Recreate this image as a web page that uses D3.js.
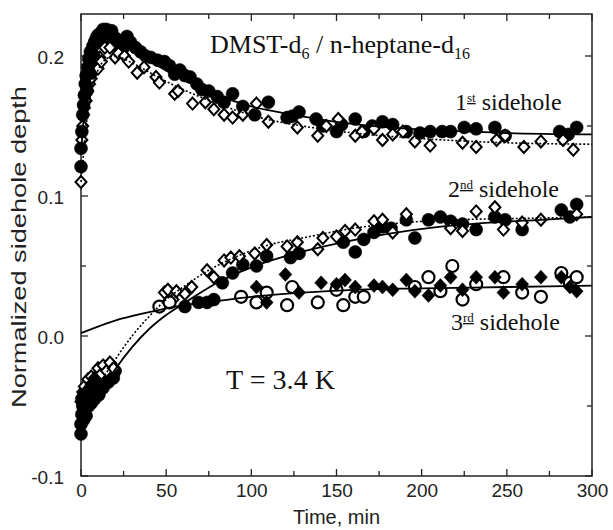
<!DOCTYPE html>
<html><head><meta charset="utf-8">
<script src="https://cdn.jsdelivr.net/npm/d3@7"></script>
<style>body{margin:0;background:#fff}</style>
</head><body>
<svg id="chart" width="613" height="530"></svg>
<script>
// ---------- DATA (time in min, normalized sidehole depth) ----------
const xTickValues = [0, 50, 100, 150, 200, 250, 300];
const xTickLabels = ["0", "50", "100", "150", "200", "250", "300"];
const yTickValues = [-0.1, 0.0, 0.1, 0.2];
const yTickLabels = ["-0.1", "0.0", "0.1", "0.2"];

// 1st sidehole
const first_filledCircles = [
 [0,0.121],[0,0.134],[0.5,0.146],[1,0.158],[1.5,0.165],[2,0.172],[2.5,0.180],[3,0.186],[3.5,0.175],[4,0.192],
 [4.5,0.198],[5,0.188],[5.5,0.203],[6,0.196],[7,0.207],[7.5,0.200],[8,0.210],[9,0.213],[10,0.215],[11,0.211],
 [12,0.217],[13,0.219],[14,0.214],[15,0.219],[16,0.216],[17,0.212],[18,0.218],[20,0.213],[21,0.208],[23,0.210],
 [25,0.206],[27,0.214],[29,0.210],[32,0.206],[35,0.203],[38,0.200],[41,0.199],[45,0.197],[49,0.196],[52,0.193],
 [55,0.187],[58,0.190],[61,0.186],[64,0.185],[68,0.180],[71,0.176],[75,0.175],[80,0.171],[84,0.167],[89,0.173],
 [95,0.164],[102,0.158],[110,0.167],[121,0.156],[124,0.157],[128,0.160],[138,0.155],[142,0.150],[150,0.146],[153,0.151],
 [161,0.155],[166,0.146],[171,0.150],[177,0.153],[183,0.151],[191,0.146],[199,0.145],[205,0.146],[212,0.146],[217,0.146],
 [225,0.149],[232,0.148],[243,0.149],[249,0.143],[281,0.146],[286,0.144],[291,0.149]
];
const first_openDiamonds = [
 [0,0.110],[0.5,0.140],[1,0.150],[1.5,0.158],[2,0.163],[3,0.168],[4,0.175],[5,0.180],[6,0.184],[7,0.188],
 [8,0.192],[9,0.195],[10,0.191],[11,0.199],[12,0.196],[14,0.206],[17,0.206],[20,0.199],[22,0.202],[25.5,0.200],
 [28,0.196],[33,0.188],[37,0.192],[44,0.185],[46,0.181],[55,0.173],[57,0.175],[65.5,0.166],[73,0.167],[78,0.162],
 [84,0.158],[89,0.156],[95,0.158],[103,0.166],[110,0.153],[127,0.149],[139,0.143],[144,0.150],[151,0.155],[161,0.143],
 [165,0.146],[172,0.148],[177,0.140],[183,0.144],[189,0.146],[196,0.139],[205,0.136],[224,0.138],[232,0.135],[244,0.140],
 [249,0.143],[260,0.135],[270,0.139],[283,0.140],[289,0.133]
];
const first_fitSolid = [
 [0,0.130],[3,0.175],[6,0.200],[10,0.212],[15,0.214],[20,0.212],[30,0.204],[45,0.193],[60,0.183],[80,0.172],
 [100,0.164],[125,0.158],[150,0.153],[180,0.149],[210,0.147],[250,0.145],[300,0.144]
];
const first_fitDotted = [
 [0,0.110],[3,0.150],[6,0.175],[10,0.190],[15,0.198],[20,0.200],[30,0.195],[45,0.185],[60,0.176],[80,0.166],
 [105,0.156],[130,0.150],[160,0.145],[200,0.141],[250,0.138],[300,0.137]
];

// 2nd sidehole
const second_filledCircles = [
 [0,-0.070],[0,-0.063],[0.5,-0.056],[0.5,-0.045],[1,-0.050],[1.5,-0.060],[2,-0.042],[2,-0.053],[3,-0.047],[3,-0.057],
 [4,-0.040],[4.5,-0.050],[5,-0.044],[6,-0.036],[6,-0.048],[7,-0.041],[8,-0.033],[8,-0.045],[9,-0.038],[10,-0.030],
 [10.5,-0.042],[11,-0.034],[12,-0.027],[13,-0.037],[14,-0.030],[15,-0.024],[16,-0.033],[17,-0.027],[18,-0.022],[19,-0.030],
 [20,-0.025],[61,0.021],[69,0.024],[74,0.024],[78,0.026],[83,0.038],[89,0.045],[95,0.051],[103,0.050],[109,0.057],
 [123,0.056],[128,0.059],[154,0.067],[161,0.060],[166,0.069],[172,0.074],[177,0.078],[182,0.077],[191,0.083],[196,0.070],
 [204,0.083],[211,0.085],[217,0.082],[224,0.080],[232,0.076],[243,0.085],[249,0.083],[259,0.076],[282,0.090],[287,0.085],
 [291,0.094]
];
const second_openDiamonds = [
 [0,-0.047],[1,-0.040],[2,-0.036],[3,-0.043],[4,-0.031],[5,-0.037],[6,-0.029],[7,-0.034],[8,-0.030],[10,-0.023],
 [12,-0.027],[13,-0.021],[15,-0.025],[17,-0.019],[19,-0.023],[49,0.031],[51,0.033],[54,0.026],[56,0.032],[61,0.030],
 [65,0.035],[74,0.047],[78,0.042],[84,0.054],[88,0.056],[93,0.057],[102,0.059],[109,0.065],[121,0.064],[127,0.067],
 [139,0.062],[142,0.070],[150,0.071],[155,0.075],[161,0.076],[172,0.082],[177,0.083],[183,0.074],[191,0.087],[217,0.077],
 [224,0.075],[232,0.089],[243,0.092],[248,0.076],[259,0.081],[270,0.083],[291,0.087]
];
const second_fitSolid = [
 [0,-0.066],[10,-0.043],[20,-0.024],[30,-0.008],[40,0.005],[50,0.015],[60,0.023],[80,0.038],[100,0.049],[120,0.057],
 [150,0.066],[180,0.073],[210,0.078],[240,0.081],[270,0.083],[300,0.085]
];
const second_fitDotted = [
 [0,-0.058],[10,-0.036],[20,-0.017],[30,0.000],[40,0.014],[50,0.026],[60,0.035],[75,0.047],[90,0.056],[110,0.065],
 [130,0.070],[160,0.077],[190,0.081],[220,0.083],[260,0.084],[300,0.085]
];

// 3rd sidehole
const third_filledDiamonds = [
 [103,0.035],[109,0.024],[120,0.044],[128,0.031],[141,0.038],[150,0.037],[155,0.040],[161,0.035],[172,0.036],[177,0.035],
 [183,0.033],[191,0.040],[196,0.032],[204,0.029],[211,0.036],[217,0.042],[224,0.033],[232,0.042],[243,0.042],[248,0.031],
 [259,0.037],[270,0.042],[282,0.042],[287,0.035],[291,0.032]
];
const third_openCircles = [
 [46,0.021],[52,0.024],[94,0.028],[103,0.024],[109,0.031],[121,0.022],[124,0.035],[139,0.024],[150,0.033],[154,0.022],
 [161,0.028],[166,0.028],[196,0.035],[204,0.042],[211,0.032],[218,0.050],[224,0.026],[232,0.037],[248,0.042],[259,0.031],
 [270,0.028],[282,0.045],[287,0.038],[291,0.042]
];
const third_fitSolid = [
 [0,0.002],[20,0.011],[40,0.017],[60,0.022],[80,0.025],[100,0.028],[130,0.031],[160,0.033],[200,0.034],[250,0.035],[300,0.036]
];

// ---------- DRAWING ----------
(function(){
const svg = d3.select("#chart");
const pL = 81, pR = 592, pT = 14, pB = 476;
const x = d3.scaleLinear().domain([0, 300]).range([pL, pR]);
const y = d3.scaleLinear().domain([-0.1, 0.23]).range([pB, pT]);

const sans = "'Liberation Sans', Arial, sans-serif";
const serif = "'Liberation Serif', 'Times New Roman', serif";

// axes (ticks inside)
const gAx = svg.append("g").attr("stroke", "#222").attr("fill", "none");
const xMinor = d3.range(0, 301, 25);
const yMinor = [-0.1, -0.05, 0, 0.05, 0.1, 0.15, 0.2];
xMinor.forEach(v => {
  const L = (v % 50 === 0) ? 7 : 5;
  gAx.append("line").attr("x1", x(v)).attr("x2", x(v)).attr("y1", pB).attr("y2", pB - L).attr("stroke-width", 1.3);
  gAx.append("line").attr("x1", x(v)).attr("x2", x(v)).attr("y1", pT).attr("y2", pT + L).attr("stroke-width", 1.3);
});
yMinor.forEach((v, i) => {
  const L = (i % 2 === 0) ? 7 : 5;
  gAx.append("line").attr("y1", y(v)).attr("y2", y(v)).attr("x1", pL).attr("x2", pL + L).attr("stroke-width", 1.3);
  gAx.append("line").attr("y1", y(v)).attr("y2", y(v)).attr("x1", pR).attr("x2", pR - L).attr("stroke-width", 1.3);
});
gAx.append("rect").attr("x", pL).attr("y", pT).attr("width", pR - pL).attr("height", pB - pT).attr("stroke-width", 1.5);

// tick labels via d3 axes (no tick lines)
const xAxis = d3.axisBottom(x).tickValues(xTickValues).tickFormat((d, i) => xTickLabels[i]).tickSize(0).tickPadding(8);
const gx = svg.append("g").attr("transform", `translate(0,${pB})`).call(xAxis);
gx.select(".domain").remove();
gx.selectAll("text").attr("font-family", sans).attr("font-size", 19).attr("fill", "#222");

const yAxis = d3.axisLeft(y).tickValues(yTickValues).tickFormat((d, i) => yTickLabels[i]).tickSize(0).tickPadding(17);
const gy = svg.append("g").attr("transform", `translate(${pL},0)`).call(yAxis);
gy.select(".domain").remove();
gy.selectAll("text").attr("font-family", sans).attr("font-size", 19).attr("fill", "#222").attr("dy", "0.4em");

// axis titles
svg.append("text").attr("x", (pL + pR) / 2).attr("y", 524).attr("text-anchor", "middle")
  .attr("font-family", sans).attr("font-size", 20).attr("fill", "#222").text("Time, min");
svg.append("text").attr("transform", `translate(26,247) rotate(-90)`).attr("text-anchor", "middle")
  .attr("font-family", sans).attr("font-size", 21).attr("fill", "#222")
  .attr("textLength", 322).attr("lengthAdjust", "spacingAndGlyphs").text("Normalized sidehole depth");

// markers
const gData = svg.append("g");
function circles(data, filled, r){
  gData.selectAll(null).data(data).enter().append("circle")
    .attr("cx", d => x(d[0])).attr("cy", d => y(d[1])).attr("r", r)
    .attr("fill", filled ? "#000" : "#fff").attr("stroke", "#000").attr("stroke-width", filled ? 0.5 : 2.2);
}
function diamonds(data, filled, hw, hh){
  gData.selectAll(null).data(data).enter().append("path")
    .attr("d", d => { const cx = x(d[0]), cy = y(d[1]);
      return `M${cx},${cy-hh}L${cx+hw},${cy}L${cx},${cy+hh}L${cx-hw},${cy}Z`; })
    .attr("fill", filled ? "#000" : "#fff").attr("stroke", "#000").attr("stroke-width", filled ? 0.5 : 2);
}
// early open diamonds are mostly hidden under the filled circles
diamonds(first_openDiamonds.filter(d => d[0] < 12), false, 5.5, 6);
circles(first_filledCircles, true, 6.5);
diamonds(first_openDiamonds.filter(d => d[0] >= 12), false, 5.5, 6);
diamonds(second_openDiamonds.filter(d => d[0] < 9), false, 5.5, 6);
circles(second_filledCircles, true, 6.5);
diamonds(second_openDiamonds.filter(d => d[0] >= 9), false, 5.5, 6);
circles(third_openCircles, false, 6);
diamonds(third_filledDiamonds, true, 6.5, 7);

// fit curves
const line = d3.line().x(d => x(d[0])).y(d => y(d[1])).curve(d3.curveMonotoneX);
const gFit = svg.append("g").attr("fill", "none").attr("stroke", "#000");
[first_fitSolid, second_fitSolid, third_fitSolid].forEach(s =>
  gFit.append("path").attr("d", line(s)).attr("stroke-width", 1.8));
[first_fitDotted, second_fitDotted].forEach(s =>
  gFit.append("path").attr("d", line(s)).attr("stroke-width", 1.6).attr("stroke-dasharray", "2,2"));

// annotations
const t1 = svg.append("text").attr("x", 210).attr("y", 53).attr("font-family", serif).attr("font-size", 26).attr("fill", "#111");
t1.append("tspan").text("DMST-d");
t1.append("tspan").attr("font-size", 16).attr("dy", 6).text("6");
t1.append("tspan").attr("dy", -6).text(" / n-heptane-d");
t1.append("tspan").attr("font-size", 16).attr("dy", 6).text("16");

function sideLabel(xp, yp, num, sup){
  const t = svg.append("text").attr("x", xp).attr("y", yp).attr("font-family", serif).attr("font-size", 24).attr("fill", "#111");
  t.append("tspan").text(num);
  t.append("tspan").attr("font-size", 13).attr("dy", -8).attr("text-decoration", "underline").text(sup);
  t.append("tspan").attr("dy", 8).text(" sidehole");
}
sideLabel(455, 110, "1", "st");
sideLabel(448, 197, "2", "nd");
sideLabel(451, 330, "3", "rd");

svg.append("text").attr("x", 226).attr("y", 389).attr("font-family", serif).attr("font-size", 27).attr("fill", "#111")
  .attr("textLength", 109).attr("lengthAdjust", "spacingAndGlyphs").text("T = 3.4 K");
})();
</script>
</body></html>
